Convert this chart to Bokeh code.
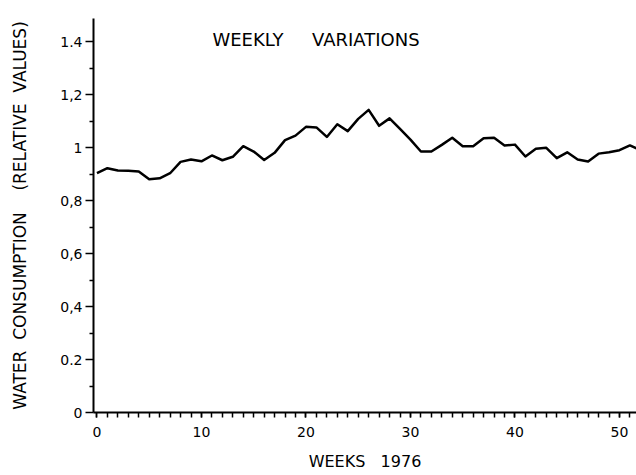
from bokeh.plotting import figure
from bokeh.models import FixedTicker, Label, Range1d
from bokeh.embed import file_html
from bokeh.resources import INLINE

# Weekly water consumption in 1976, relative to the yearly mean
weeks = list(range(0, 53))
consumption = [
    0.903, 0.922, 0.913, 0.912, 0.910, 0.880, 0.884, 0.903, 0.946, 0.955,
    0.948, 0.970, 0.952, 0.965, 1.005, 0.985, 0.953, 0.980, 1.028, 1.045,
    1.078, 1.076, 1.040, 1.088, 1.062, 1.108, 1.142, 1.082, 1.110, 1.070,
    1.030, 0.985, 0.985, 1.010, 1.037, 1.005, 1.005, 1.035, 1.037, 1.008,
    1.011, 0.966, 0.995, 0.999, 0.960, 0.982, 0.955, 0.947, 0.977, 0.982,
    0.990, 1.008, 0.990,
]

x_ticks = [0, 10, 20, 30, 40, 50]
x_tick_labels = ["0", "10", "20", "30", "40", "50"]
y_ticks = [0, 0.2, 0.4, 0.6, 0.8, 1.0, 1.2, 1.4]
y_tick_labels = ["0", "0.2", "0,4", "0,6", "0,8", "1", "1,2", "1.4"]
y_minor = [0.1, 0.3, 0.5, 0.7, 0.9, 1.1, 1.3]

FONT = "DejaVu Sans"
NBSP = "\u00a0"

p = figure(
    width=636, height=475,
    output_backend="svg", toolbar_location=None,
    x_range=Range1d(-0.33, 51.63), y_range=Range1d(0, 1.487),
    min_border_left=93, min_border_right=0,
    min_border_top=18, min_border_bottom=63,
)
p.outline_line_color = None
p.grid.visible = False
p.background_fill_color = "white"
p.border_fill_color = "white"

p.line(weeks, consumption, line_color="black", line_width=2.5, line_join="round")

# x axis: a tick every week, labels every ten weeks
xa = p.xaxis[0]
xa.ticker = FixedTicker(ticks=x_ticks, minor_ticks=weeks)
xa.major_label_overrides = {t: s for t, s in zip(x_ticks, x_tick_labels)}
xa.axis_label = "WEEKS" + NBSP * 3 + "1976"
xa.axis_label_standoff = 12
xa.axis_label_text_font = FONT
xa.axis_label_text_font_size = "16px"
xa.axis_label_text_font_style = "normal"
xa.major_label_text_font = FONT
xa.major_label_text_font_size = "14px"
xa.major_label_standoff = 9
xa.major_tick_in = 0
xa.major_tick_out = 5
xa.minor_tick_in = 0
xa.minor_tick_out = 5

# y axis: labelled every 0.2, minor ticks in between
ya = p.yaxis[0]
ya.ticker = FixedTicker(ticks=y_ticks, minor_ticks=y_minor)
ya.major_label_overrides = {t: s for t, s in zip(y_ticks, y_tick_labels)}
ya.axis_label = "WATER" + NBSP * 2 + "CONSUMPTION" + NBSP * 4 + "(RELATIVE" + NBSP * 2 + "VALUES)"
ya.axis_label_standoff = 27
ya.axis_label_text_font = FONT
ya.axis_label_text_font_size = "17px"
ya.axis_label_text_font_style = "normal"
ya.major_label_text_font = FONT
ya.major_label_text_font_size = "14px"
ya.major_label_standoff = 3
ya.major_tick_in = 0
ya.major_tick_out = 8
ya.minor_tick_in = 0
ya.minor_tick_out = 4

for ax in (xa, ya):
    ax.axis_line_color = "black"
    ax.axis_line_width = 2
    ax.major_tick_line_color = "black"
    ax.major_tick_line_width = 1.5
    ax.minor_tick_line_color = "black"
    ax.minor_tick_line_width = 1.5
    ax.major_label_text_color = "black"
    ax.axis_label_text_color = "black"

p.add_layout(Label(
    x=11.05, y=1.409, text="WEEKLY" + NBSP * 5 + "VARIATIONS",
    text_font=FONT, text_font_size="18px", text_color="black",
    text_align="left", text_baseline="middle",
))

open("out.html", "w").write(file_html(p, INLINE))
